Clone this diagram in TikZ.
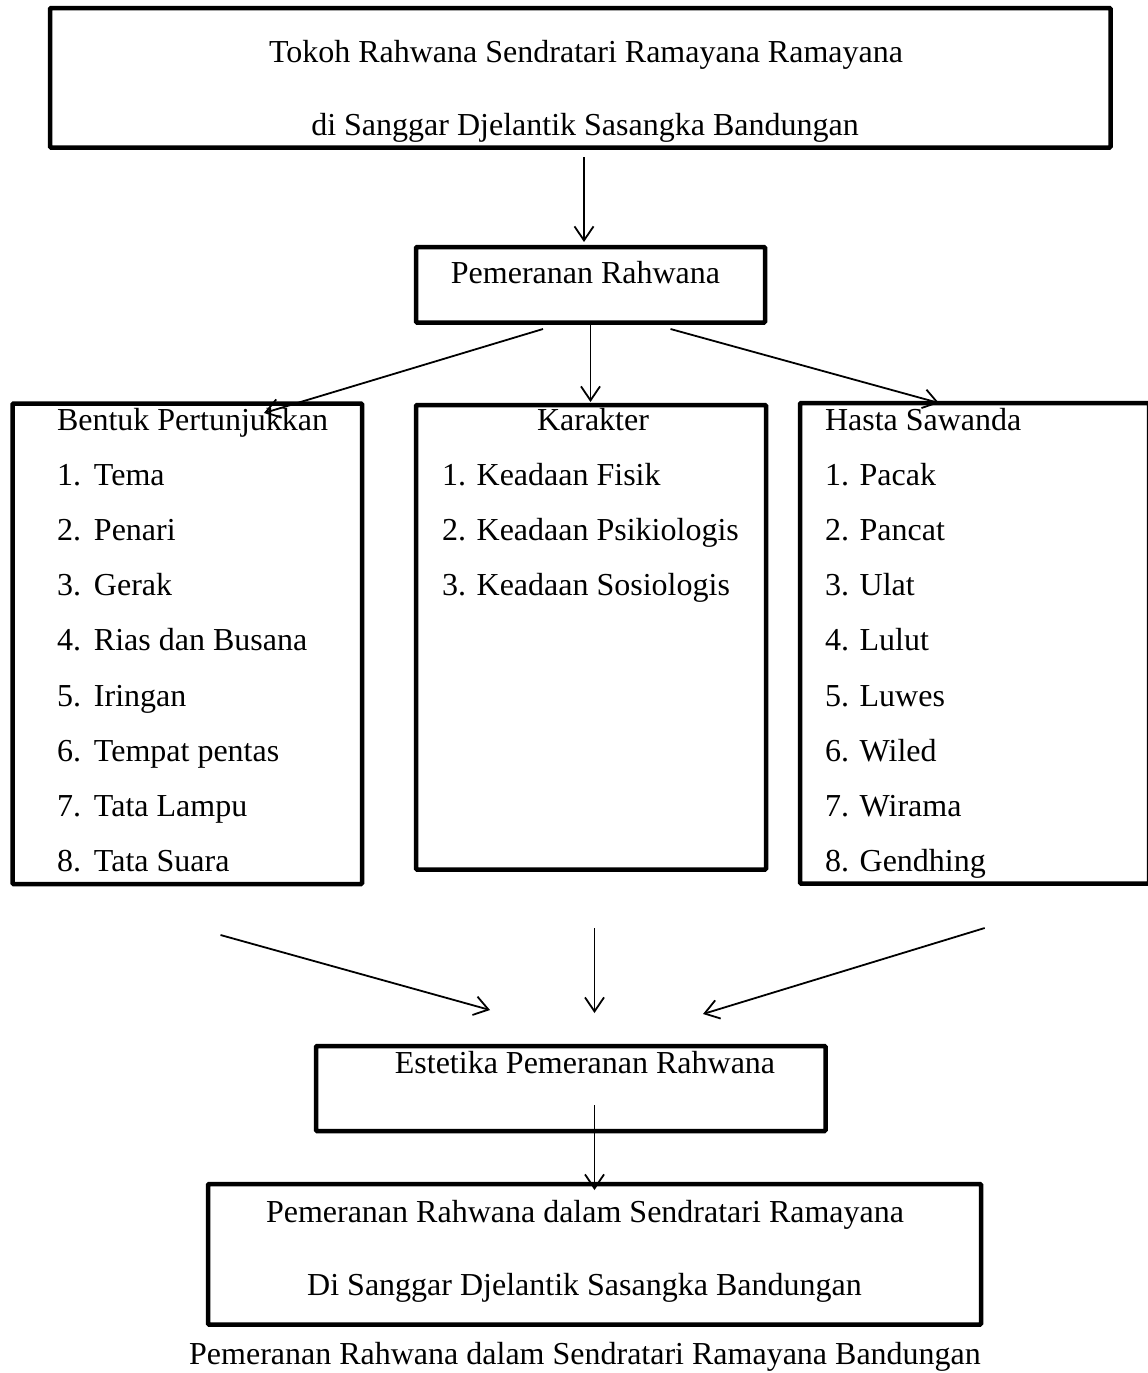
\documentclass[tikz,border=0pt]{standalone}
\usepackage{fontspec}
\setmainfont{Liberation Serif}
\usetikzlibrary{arrows.meta}
\begin{document}
\begin{tikzpicture}[x=1pt,y=-1pt,
  bx/.style={draw, line width=4.5pt, inner sep=0pt, outer sep=0pt, rounded corners=1pt},
  txt/.style={inner sep=0pt, outer sep=0pt, font=\fontsize{32}{38}\selectfont},
  arr/.style={line width=1.8pt, -{Straight Barb[length=14pt,width=19pt]}}]
\useasboundingbox (0,0) rectangle (1148,1373);
% boxes
\node[bx, minimum width=1060.5pt, minimum height=139.5pt] (top) at (580.25,77.75) {};
\node[bx, minimum width=349pt, minimum height=75.5pt] (pem) at (590.5,284.75) {};
\node[bx, minimum width=349.5pt, minimum height=480.5pt] (ben) at (187.25,643.75) {};
\node[bx, minimum width=350pt, minimum height=464.5pt] (kar) at (591,637.25) {};
\node[bx, minimum width=349pt, minimum height=480.5pt] (has) at (974.5,643.25) {};
\node[bx, minimum width=509.5pt, minimum height=85pt] (est) at (570.75,1088.5) {};
\node[bx, minimum width=773pt, minimum height=140.5pt] (fin) at (594.5,1254.25) {};
% texts
\node[txt, anchor=base] (t1) at (586,62) {Tokoh Rahwana Sendratari Ramayana Ramayana};
\node[txt, anchor=base] (t2) at (585,135) {di Sanggar Djelantik Sasangka Bandungan};
\node[txt, anchor=base] (p1) at (585.5,283) {Pemeranan Rahwana};
% Bentuk
\node[txt, anchor=base west] (b0) at (57,430) {Bentuk Pertunjukkan};
\node[txt, anchor=base west] (b1) at (57,485.2) {\makebox[37pt][l]{1.}Tema};
\node[txt, anchor=base west] (b2) at (57,540.4) {\makebox[37pt][l]{2.}Penari};
\node[txt, anchor=base west] (b3) at (57,595.6) {\makebox[37pt][l]{3.}Gerak};
\node[txt, anchor=base west] (b4) at (57,650.8) {\makebox[37pt][l]{4.}Rias dan Busana};
\node[txt, anchor=base west] (b5) at (57,706) {\makebox[37pt][l]{5.}Iringan};
\node[txt, anchor=base west] (b6) at (57,761.2) {\makebox[37pt][l]{6.}Tempat pentas};
\node[txt, anchor=base west] (b7) at (57,816.4) {\makebox[37pt][l]{7.}Tata Lampu};
\node[txt, anchor=base west] (b8) at (57,871.6) {\makebox[37pt][l]{8.}Tata Suara};
% Karakter
\node[txt, anchor=base] (k0) at (593,430) {Karakter};
\node[txt, anchor=base west] (k1) at (442,485.2) {1. Keadaan Fisik};
\node[txt, anchor=base west] (k2) at (442,540.4) {2. Keadaan Psikiologis};
\node[txt, anchor=base west] (k3) at (442,595.6) {3. Keadaan Sosiologis};
% Hasta
\node[txt, anchor=base west] (h0) at (825,430) {Hasta Sawanda};
\node[txt, anchor=base west] (h1) at (825,485.2) {1. Pacak};
\node[txt, anchor=base west] (h2) at (825,540.4) {2. Pancat};
\node[txt, anchor=base west] (h3) at (825,595.6) {3. Ulat};
\node[txt, anchor=base west] (h4) at (825,650.8) {4. Lulut};
\node[txt, anchor=base west] (h5) at (825,706) {5. Luwes};
\node[txt, anchor=base west] (h6) at (825,761.2) {6. Wiled};
\node[txt, anchor=base west] (h7) at (825,816.4) {7. Wirama};
\node[txt, anchor=base west] (h8) at (825,871.6) {8. Gendhing};
% lower texts
\node[txt, anchor=base] (e1) at (585,1073) {Estetika Pemeranan Rahwana};
\node[txt, anchor=base] (f1) at (585,1222) {Pemeranan Rahwana dalam Sendratari Ramayana};
\node[txt, anchor=base] (f2) at (584.5,1295) {Di Sanggar Djelantik Sasangka Bandungan};
\node[txt, anchor=base] (cap) at (585,1364) {Pemeranan Rahwana dalam Sendratari Ramayana Bandungan};
% arrow end points
\coordinate (a1s) at (584,157);
\coordinate (a2s) at (543,329);
\coordinate (a2e) at (264,413);
\coordinate (a4s) at (670.5,329);
\coordinate (a4e) at (939,403);
\coordinate (b1s) at (220.5,935);
\coordinate (b1e) at (490,1010);
\coordinate (b2s) at (594.5,928);
\coordinate (b2e) at (594.5,1013);
\coordinate (b3s) at (984.7,928);
\coordinate (b3e) at (703,1014);
\coordinate (cs) at (594.5,1105);
\coordinate (ce) at (594.5,1190);
% arrows
\draw[arr, shorten >=5pt] (a1s) -- (a1s |- pem.north);
\draw[arr] (a2s) -- (a2e);
\draw[arr, shorten >=3pt] (pem.south) -- (pem.south |- kar.north);
\draw[arr] (a4s) -- (a4e);
\draw[arr] (b1s) -- (b1e);
\draw[arr] (b2s) -- (b2e);
\draw[arr] (b3s) -- (b3e);
\draw[arr] (cs) -- (ce);
\end{tikzpicture}
\end{document}
